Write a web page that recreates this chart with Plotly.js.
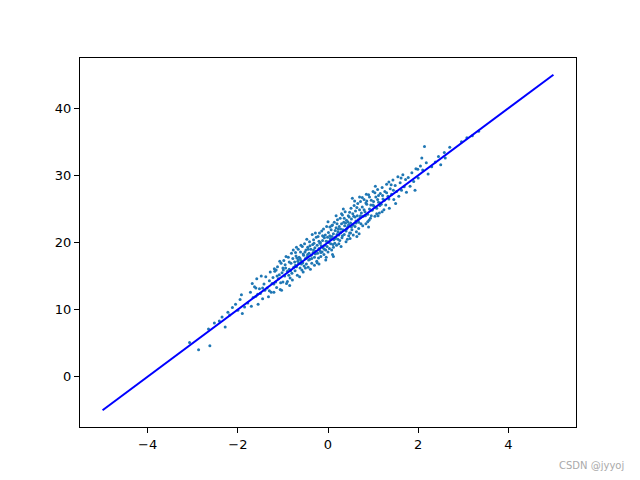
<!DOCTYPE html>
<html>
<head>
<meta charset="utf-8">
<script src="https://cdn.plot.ly/plotly-3.0.1.min.js"></script>
<style>html,body{margin:0;padding:0;background:#fff;}#chart{width:640px;height:480px;}</style>
</head>
<body>
<div id="chart"></div>
<script>
const pointsX = [
-3.07,-2.87,-2.62,-2.65,-2.52,-2.41,-2.35,-2.22,-2.12,-2.05,-2.18,-2.0,-1.95,-1.9,-1.85,-2.28,-1.92,
-1.78,-1.72,-1.7,-1.66,-1.63,-1.6,-1.58,-1.55,-1.52,-1.5,-1.48,-1.45,-1.42,-1.4,-1.38,-1.35,-1.32,-1.3,-1.28,-1.26,-1.56,-1.68,
-1.24,-1.22,-1.2,-1.18,-1.16,-1.14,-1.12,-1.1,-1.08,-1.06,-1.04,-1.02,-1.0,-0.98,-0.96,-0.94,-0.92,-0.9,-0.88,-0.86,-0.84,-0.82,-0.8,-0.78,-0.76,-1.19,-1.03,-0.99,-0.87,-0.79,-1.13,-0.93,-0.81,-1.07,-0.85,
-0.74,-0.73,-0.72,-0.7,-0.69,-0.68,-0.66,-0.65,-0.64,-0.62,-0.61,-0.6,-0.58,-0.57,-0.56,-0.54,-0.53,-0.52,-0.5,-0.49,-0.48,-0.46,-0.45,-0.44,-0.42,-0.41,-0.4,-0.38,-0.37,-0.36,-0.34,-0.33,-0.32,-0.3,-0.29,-0.28,-0.26,-0.25,-0.71,-0.63,-0.55,-0.47,-0.39,-0.31,-0.27,-0.59,-0.43,-0.35,-0.67,-0.51,
-0.24,-0.23,-0.22,-0.21,-0.2,-0.19,-0.18,-0.17,-0.16,-0.15,-0.14,-0.13,-0.12,-0.11,-0.1,-0.09,-0.08,-0.07,-0.06,-0.05,-0.04,-0.03,-0.02,-0.01,0.0,0.01,0.02,0.03,0.04,0.05,0.06,0.07,0.08,0.09,0.1,0.11,0.12,0.13,0.14,0.15,0.16,0.17,0.18,0.19,0.2,0.21,0.22,0.23,0.24,-0.2,0.0,0.12,-0.1,0.18,-0.05,
0.25,0.26,0.27,0.28,0.3,0.31,0.32,0.33,0.35,0.36,0.37,0.38,0.4,0.41,0.42,0.43,0.45,0.46,0.47,0.48,0.5,0.51,0.52,0.53,0.55,0.56,0.57,0.58,0.6,0.61,0.62,0.63,0.65,0.66,0.67,0.68,0.7,0.71,0.72,0.73,0.74,0.29,0.39,0.49,0.59,0.69,0.34,0.44,0.54,0.64,
0.76,0.78,0.8,0.82,0.84,0.86,0.88,0.9,0.92,0.94,0.96,0.98,1.0,1.02,1.04,1.06,1.08,1.1,1.12,1.14,1.16,1.18,1.2,1.22,1.24,0.77,0.85,0.95,1.05,1.15,0.83,0.91,1.01,1.11,1.21,
1.26,1.28,1.3,1.33,1.36,1.38,1.41,1.44,1.46,1.49,1.52,1.55,1.57,1.6,1.63,1.66,1.69,1.72,1.74,1.35,1.5,1.62,
1.78,1.82,1.86,1.9,1.95,2.0,2.05,2.1,2.14,2.18,2.22,1.93,2.08,1.99,
2.3,2.38,2.45,2.5,2.58,2.6,2.96,3.08,3.2,3.34,2.7,
-1.45,-1.3,-1.15,-1.05,-0.95,-0.9,-0.83,-0.77,-0.72,-0.66,-0.6,-0.55,-0.5,-0.45,-0.4,-0.36,-0.32,-0.28,-0.24,-0.2,-0.16,-0.12,-0.08,-0.04,0.0,0.04,0.08,0.12,0.16,0.2,0.24,0.28,0.32,0.36,0.4,0.44,0.48,0.52,0.56,0.6,0.64,0.68,0.72,0.76,0.8,0.84,0.88,0.92,0.96,1.0,1.04,1.08,1.12,1.16,1.2,1.25,1.3,1.35,1.4,1.45,
-1.6,-1.2,-1.0,-0.7,-0.3,0.1,0.3,0.5,0.7,0.9,1.1,-0.62,-0.18,0.22,0.62,-0.86,-0.44,0.06,0.46,0.86
];
const pointsY = [
5.1,4.0,4.6,7.1,8.0,8.3,8.9,9.6,10.3,10.8,9.2,9.9,11.5,9.4,10.4,7.4,12.2,
11.0,12.6,10.5,11.8,13.4,12.0,14.6,10.8,13.1,12.4,15.0,11.6,13.8,12.9,14.9,13.2,11.9,14.3,15.6,12.6,12.3,13.9,
13.9,14.8,12.6,15.7,14.1,13.3,16.4,14.6,15.2,13.0,16.9,15.5,14.1,17.3,15.0,16.2,13.9,15.7,17.8,16.0,14.7,16.9,15.4,17.6,16.3,16.1,12.9,15.9,15.1,14.4,15.0,17.9,18.4,17.2,13.6,
17.1,15.8,18.5,16.4,17.7,15.1,19.0,16.9,17.8,16.2,18.6,17.3,15.9,19.4,17.0,18.1,16.5,19.8,17.6,18.9,16.8,17.9,19.3,16.3,18.4,20.1,17.5,19.0,18.1,16.9,19.7,18.5,20.4,17.8,19.2,18.3,20.8,17.2,18.0,14.9,18.3,20.5,16.0,19.9,18.7,16.8,17.4,21.2,17.2,18.6,
19.6,18.4,20.9,17.7,19.1,21.4,18.8,20.0,17.9,19.5,21.7,18.6,20.3,19.2,22.0,18.2,20.7,19.6,21.1,18.9,20.2,22.4,19.4,20.8,18.6,21.5,20.0,19.1,22.3,20.6,19.8,21.9,18.9,20.9,22.6,19.7,21.3,20.4,23.0,19.9,21.8,20.8,22.2,19.6,21.2,23.4,20.5,22.0,21.1,16.8,23.1,17.9,20.9,24.0,17.4,
22.4,20.3,23.6,21.5,22.8,20.7,24.1,21.9,23.0,21.2,22.5,24.6,21.7,23.3,22.1,20.5,24.0,22.7,23.8,21.4,22.9,25.1,23.5,21.9,24.3,22.6,23.9,25.5,22.4,24.7,23.2,21.6,24.0,25.8,23.4,22.1,24.9,23.7,26.1,22.8,24.4,19.4,22.9,20.6,26.2,21.3,25.0,22.4,26.6,20.9,
25.3,23.9,26.4,24.6,22.8,25.7,24.2,27.1,25.0,23.6,26.3,24.8,27.6,25.4,23.9,26.8,25.1,27.9,26.0,24.4,27.3,25.7,28.2,26.5,24.9,22.5,27.2,25.6,28.4,25.5,24.0,23.3,26.1,24.0,27.0,
27.6,25.6,28.7,26.9,25.1,28.0,27.2,29.3,26.4,28.5,27.6,29.8,26.9,28.9,27.8,30.1,28.3,29.4,27.5,29.0,25.8,29.6,
29.7,28.4,30.4,29.1,31.0,29.6,31.4,30.8,34.3,31.9,30.2,27.8,32.6,30.9,
31.3,32.0,32.8,31.6,33.4,32.6,35.0,35.6,35.9,36.6,34.2,
13.2,12.8,15.9,14.0,16.7,14.2,15.8,18.9,16.6,17.4,19.6,15.6,16.2,18.2,19.5,17.6,18.9,21.4,17.0,20.2,18.5,21.0,19.0,17.8,20.1,21.0,22.5,19.3,20.6,22.8,19.8,22.0,21.0,23.6,20.1,23.1,24.5,22.3,21.1,23.8,25.2,23.0,24.0,26.7,24.9,25.9,23.1,26.8,24.0,25.6,27.4,24.3,27.0,25.9,24.6,26.3,27.4,26.5,28.6,27.8,
13.2,13.8,16.2,19.3,16.6,18.2,24.3,21.4,26.8,22.3,26.4,17.6,19.9,21.6,22.9,17.1,19.0,20.5,21.0,26.2
];
const lineX = [-5, 5];
const lineY = [-5, 45];
const xTicks = [-4, -2, 0, 2, 4];
const yTicks = [0, 10, 20, 30, 40];

const axisCommon = {
  showgrid: false, zeroline: false, showline: true, mirror: true,
  linecolor: '#000', linewidth: 1, ticks: 'outside', ticklen: 5, tickwidth: 1,
  tickcolor: '#000', tickfont: {family: 'DejaVu Sans', size: 13, color: '#000'}
};

Plotly.newPlot('chart', [
  {x: pointsX, y: pointsY, type: 'scatter', mode: 'markers',
   marker: {size: 3, color: '#1f77b4'}, showlegend: false, hoverinfo: 'skip'},
  {x: lineX, y: lineY, type: 'scatter', mode: 'lines',
   line: {color: 'blue', width: 2}, showlegend: false, hoverinfo: 'skip'}
], {
  width: 640, height: 480,
  margin: {l: 80, r: 64, t: 58, b: 53},
  paper_bgcolor: '#fff', plot_bgcolor: '#fff',
  xaxis: Object.assign({}, axisCommon, {range: [-5.5, 5.5], tickvals: xTicks}),
  yaxis: Object.assign({}, axisCommon, {range: [-7.5, 47.5], tickvals: yTicks}),
  annotations: [{
    text: 'CSDN @jyyoj', xref: 'paper', yref: 'paper', x: 1.1, y: -0.103,
    xanchor: 'right', yanchor: 'middle', showarrow: false,
    font: {family: 'DejaVu Sans', size: 10, color: '#aaa'}
  }]
}, {staticPlot: true});
</script>
</body>
</html>
